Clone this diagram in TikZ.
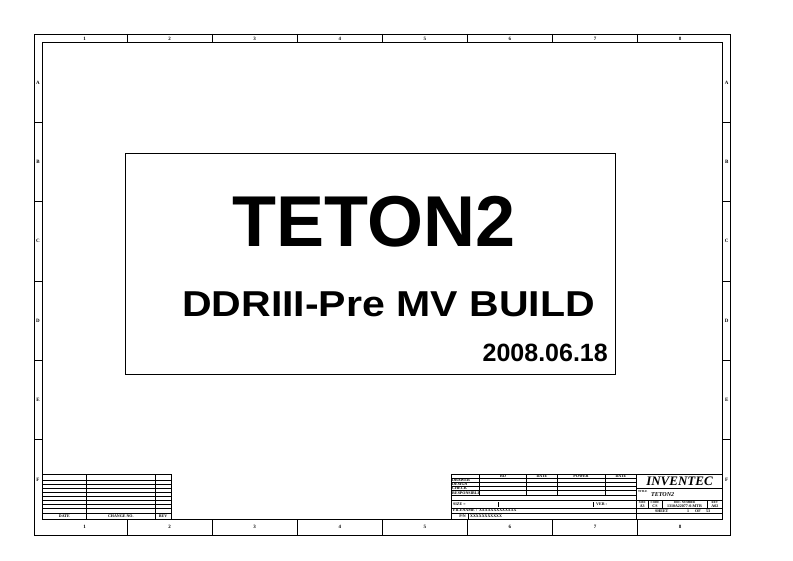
\documentclass[tikz,border=0pt]{standalone}
\usepackage{fontspec}
\setmainfont{Liberation Serif}
\setsansfont{Liberation Sans}
\usepackage{tikz}
\usetikzlibrary{positioning}
\tikzstyle{frame} = [line width=0.8pt]
\tikzstyle{grid} = [line width=0.5pt]
\tikzstyle{zone} = [inner sep=0pt, font=\fontsize{5}{5}\selectfont\bfseries]
\tikzstyle{tiny} = [inner sep=0pt, font=\fontsize{4}{4}\selectfont\bfseries]
\tikzstyle{tinyw} = [tiny, anchor=west]

\begin{document}
\begin{tikzpicture}[x=1pt, y=-1pt]
        \useasboundingbox (0,0) rectangle (793,561);
        % Border and zones
        \draw[frame] (34,34) rectangle (730.7,535);
        \draw[frame] (42,42.7) rectangle (722.7,519.3);
        \foreach \i in {1,...,8} {
            \node[zone] (ct\i) at ({42+85.09*(\i-0.5)},38.5) {\i};
            \node[zone] (cb\i) at ({42+85.09*(\i-0.5)},527) {\i};
        }
        \foreach \i in {1,...,7} {
            \draw[frame] ({42+85.09*\i},34) -- ({42+85.09*\i},42.7);
            \draw[frame] ({42+85.09*\i},519.3) -- ({42+85.09*\i},535);
        }
        \foreach \r [count=\j] in {A,B,C,D,E,F} {
            \node[zone] (rl\r) at (38,{42.7+79.43*(\j-0.5)}) {\r};
            \node[zone] (rr\r) at (726.7,{42.7+79.43*(\j-0.5)}) {\r};
        }
        \foreach \j in {1,...,5} {
            \draw[frame] (34,{42.7+79.43*\j}) -- (42,{42.7+79.43*\j});
            \draw[frame] (722.7,{42.7+79.43*\j}) -- (730.7,{42.7+79.43*\j});
        }

        % Title box
        \draw[line width=1pt] (125.7,154) rectangle (615,375);
        \node[anchor=base, inner sep=0pt, font=\sffamily\bfseries\fontsize{72}{72}\selectfont] (board) at (374,246.7) {TETON2};
        \node[anchor=base, inner sep=0pt, font=\sffamily\bfseries\fontsize{36}{36}\selectfont] (build) at (388.5,316.7) {\scalebox{1.14}[1]{DDRIII-Pre MV BUILD}};
        \node[anchor=base east, inner sep=0pt, font=\sffamily\bfseries\fontsize{25}{25}\selectfont] (date) at (608,361.7) {2008.06.18};

        % Revision table
        \draw[grid] (42,474) rectangle (171,519.3);
        \foreach \y in {480,484,488,492,496,500,504,508,513} \draw[grid] (42,\y) -- (171,\y);
        \draw[grid] (86.7,474) -- (86.7,519.3);
        \draw[grid] (155,474) -- (155,519.3);
        \node[tiny] (revdate) at (64.3,516.3) {DATE};
        \node[tiny] (revchange) at (120.8,516.3) {CHANGE NO.};
        \node[tiny] (revrev) at (163,516.3) {REV};

        % Title block
        \draw[grid] (451,474) rectangle (722.7,519.3);
        \foreach \y in {478.5,482.5,486.5,490.5,495.5,500.5,508} \draw[grid] (451,\y) -- (636.7,\y);
        \draw[grid] (451,513.5) -- (722.7,513.5);
        \foreach \x in {479.3,526.7,557.3,605} \draw[grid] (\x,474) -- (\x,495.5);
        \draw[grid] (636.7,474) -- (636.7,519.3);
        \node[tiny] (hrd) at (503,476.3) {RD};
        \node[tiny] (hdate) at (542,476.3) {DATE};
        \node[tiny] (hpower) at (581,476.3) {POWER};
        \node[tiny] (hdate2) at (621,476.3) {DATE};
        \node[tinyw] (drawer) at (452,480.5) {DRAWER};
        \node[tinyw] (design) at (452,484.5) {DESIGN};
        \node[tinyw] (check) at (452,488.5) {CHECK};
        \node[tinyw] (resp) at (452,493) {RESPONSIBLE};
        \node[tinyw] (size) at (453,504.3) {SIZE =};
        \draw[grid] (498,502) -- (498,507);
        \node[tinyw] (ver) at (596,504.3) {VER :};
        \draw[grid] (593,502) -- (593,507);
        \node[tinyw] (filename) at (453,510.7) {FILENAME :\ \ XXXXXXXXXXXXX};
        \node[tiny, anchor=east] (pn) at (466,516.4) {P/N};
        \draw[grid] (468,513.5) -- (468,519.3);
        \node[tinyw] (pnval) at (470,516.4) {XXXXXXXXXXX};

        % Company and document fields
        \draw[grid] (636.7,488.5) -- (722.7,488.5);
        \draw[grid] (636.7,500.5) -- (722.7,500.5);
        \draw[grid] (636.7,508.5) -- (722.7,508.5);
        \foreach \x in {648,662,707} \draw[grid] (\x,500.5) -- (\x,508.5);
        \node[inner sep=0pt, font=\fontsize{13}{13}\selectfont\bfseries\itshape] (company) at (679.5,481.5) {INVENTEC};
        \node[tinyw, font=\fontsize{3}{3}\selectfont\bfseries] (titlelbl) at (638,491.5) {TITLE};
        \node[inner sep=0pt, anchor=west, font=\fontsize{6}{6}\selectfont\bfseries\itshape] (titleval) at (651,494.5) {TETON2};
        \node[tiny, font=\fontsize{3}{3}\selectfont\bfseries] (hsize) at (642.3,502.6) {SIZE};
        \node[tiny, font=\fontsize{3}{3}\selectfont\bfseries] (hcode) at (655,502.6) {CODE};
        \node[tiny, font=\fontsize{3}{3}\selectfont\bfseries] (hdoc) at (684.5,502.6) {DOC. NUMBER};
        \node[tiny, font=\fontsize{3}{3}\selectfont\bfseries] (hrev) at (714.8,502.6) {REV};
        \node[tiny] (vsize) at (642.3,506.1) {A3};
        \node[tiny] (vcode) at (655,506.1) {CS};
        \node[tiny] (vdoc) at (684.5,506.1) {1310A22077-0-MTR};
        \node[tiny] (vrev) at (714.8,506.1) {A02};
        \node[tiny] (sheet) at (661.7,510.8) {SHEET};
        \node[tiny] (sheetno) at (688,510.8) {1};
        \node[tiny] (of) at (698,510.8) {OF};
        \node[tiny] (sheets) at (708,510.8) {53};
\end{tikzpicture}
\end{document}
